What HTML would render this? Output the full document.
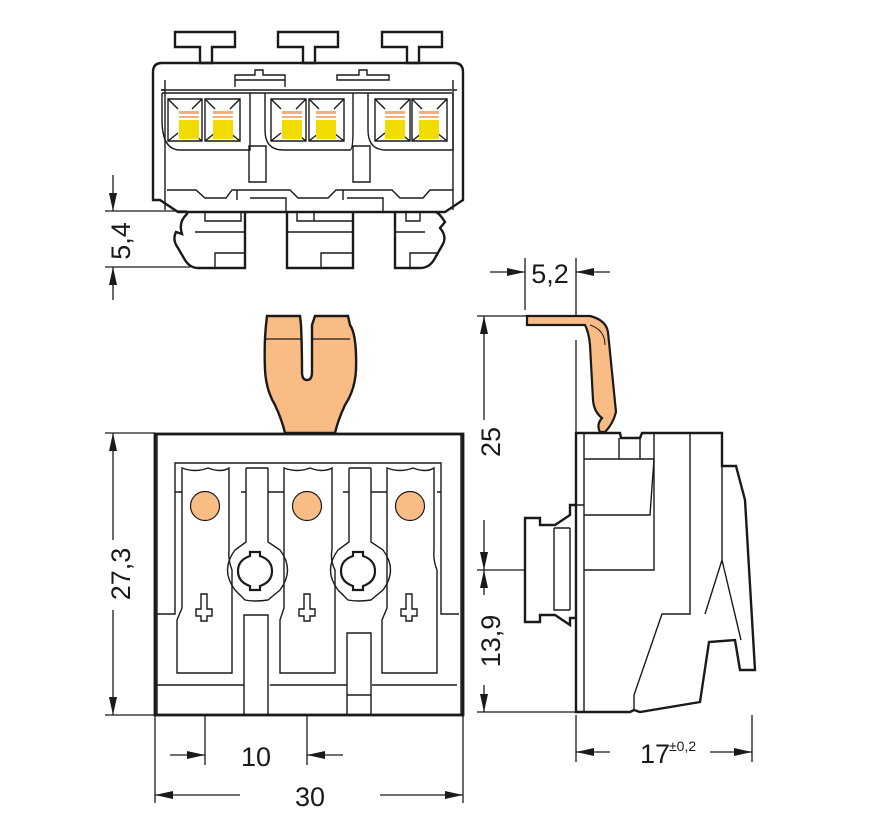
<!DOCTYPE html>
<html><head><meta charset="utf-8"><style>
html,body{margin:0;padding:0;background:#fff}
svg{display:block}
text{font-family:"Liberation Sans",Arial,sans-serif;fill:#1a1a1a}
</style></head><body>
<svg width="869" height="825" viewBox="0 0 869 825" xmlns="http://www.w3.org/2000/svg">
<defs>
<marker id="a" viewBox="0 0 18 10" refX="18" refY="5" markerWidth="18" markerHeight="10" markerUnits="userSpaceOnUse" orient="auto-start-reverse"><path d="M0,1 L18,5 L0,9z" fill="#1a1a1a"/></marker>
</defs>
<g fill="none" stroke="#1a1a1a" stroke-width="1.4">
<!-- ===== TOP VIEW ===== -->
<g stroke-width="2.4">
<path d="M153,72 Q153,63 162,63 L454,63 Q463,63 463,72 L463,200 L445,212 L178,212 L160,200 L153,200 Z"/>
<path d="M175,32 h60 v15 h-23 v16 h-12 v-16 h-25z"/>
<path d="M278,32 h60 v15 h-23 v16 h-12 v-16 h-25z"/>
<path d="M382,32 h60 v15 h-23 v16 h-12 v-16 h-25z"/>
<path d="M187,212 L187,214 Q178,222 182,234 L176,232 Q172,240 178,248 L185,260 Q190,268 198,268 L245,268 L245,212"/>
<path d="M287,212 V268 H353 V212"/>
<path d="M395,212 V268 L420,268 Q430,268 435,258 L443,244 Q447,236 440,228 L445,222 Q440,214 436,212"/>
</g>
<path d="M165,80 V210 M453,80 V210"/>
<path d="M161,90 h4 M453,90 h4"/>
<path d="M162,90 H452"/>
<path d="M162,93 H452"/>
<path d="M162,93 V120 Q162,150 180,150 L250,150 V93"/>
<path d="M265,93 V130 Q265,150 283,150 L350,150 Q353,150 353,130 V93"/>
<path d="M368,93 V130 Q368,150 386,150 L453,150 V93"/>
<path d="M235,80 h50 v-5 h-22 v-5 h-8 v5 h-20z M235,80 V87 M285,80 V87"/>
<path d="M337,80 h52 v-5 h-22 v-5 h-8 v5 h-22z"/>
<path d="M249,146 h17 v36 h-17z M353,146 h17 v36 h-17z"/>
<path d="M167,190 H196 L205,198 H226 L232,190 H290 L298,198 H328 L336,190 H392 L400,198 H423 L430,190 H453"/>
<path d="M237,190 V200 M343,190 V200 M250,198 h36 v14 M347,198 h36 v14"/>
<path d="M205,212 v9 h36 v-9 M297,212 v9 h55 M314,212 v9 M406,212 v9 h14 v-9 M195,232 h50 M287,232 h66 M395,232 h30 M215,268 v-15 h30 M321,268 v-15 h32 M410,268 v-15 h28"/>
<g>
<path d="M168,99 h34 v42 h-34z M168,99 l10,10 M202,99 l-10,10 M168,141 l10,-8 M202,141 l-10,-8"/>
<path d="M205,99 h35 v42 h-35z M205,99 l10,10 M240,99 l-10,10 M205,141 l10,-8 M240,141 l-10,-8"/>
<path d="M271,99 h35 v42 h-35z M271,99 l10,10 M306,99 l-10,10 M271,141 l10,-8 M306,141 l-10,-8"/>
<path d="M309,99 h35 v42 h-35z M309,99 l10,10 M344,99 l-10,10 M309,141 l10,-8 M344,141 l-10,-8"/>
<path d="M375,99 h35 v42 h-35z M375,99 l10,10 M410,99 l-10,10 M375,141 l10,-8 M410,141 l-10,-8"/>
<path d="M412,99 h35 v42 h-35z M412,99 l10,10 M447,99 l-10,10 M412,141 l10,-8 M447,141 l-10,-8"/>
</g>
</g>
<g fill="#f0dc00" stroke="none">
<rect x="179" y="120" width="20" height="19"/><rect x="213" y="120" width="20" height="19"/>
<rect x="282" y="120" width="20" height="19"/><rect x="316" y="120" width="20" height="19"/>
<rect x="385" y="120" width="20" height="19"/><rect x="419" y="120" width="20" height="19"/>
</g>
<g fill="#f0b080" stroke="none">
<rect x="179" y="111" width="20" height="3"/><rect x="213" y="111" width="20" height="3"/>
<rect x="282" y="111" width="20" height="3"/><rect x="316" y="111" width="20" height="3"/>
<rect x="385" y="111" width="20" height="3"/><rect x="419" y="111" width="20" height="3"/>
<rect x="179" y="116" width="20" height="2"/><rect x="213" y="116" width="20" height="2"/>
<rect x="282" y="116" width="20" height="2"/><rect x="316" y="116" width="20" height="2"/>
<rect x="385" y="116" width="20" height="2"/><rect x="419" y="116" width="20" height="2"/>
</g>

<!-- ===== FRONT VIEW ===== -->
<path d="M267,316 H300 L301,325 Q302,345 302,372 Q302,380 307,380 Q312,380 312,372 V325 L315,316 H348 L350,325 Q357,335 356,370 Q355,390 345,405 Q338,420 335,433 H285 Q282,420 275,405 Q266,390 265,370 Q264,345 266,325Z" fill="#f9bc85" stroke="#1a1a1a" stroke-width="2.4"/>
<path d="M266,339 H302 M312,339 H350" stroke="#1a1a1a" stroke-width="1.2"/>
<g fill="none" stroke="#1a1a1a" stroke-width="1.4">
<rect x="155" y="434" width="308" height="281" stroke-width="2.8"/>
<path d="M157,434 V715 M461,434 V715"/>
<path d="M157,614 H175 V463 H441 V614 H459"/>
<path d="M175,492 H182 M241,492 H246 M268,492 H284 M343,492 H349 M371,492 H387 M437,492 H441"/>
<path d="M157,685 H244 M270,685 H347 M372,685 H457"/>
<path d="M182,468 Q195,473 208,468 Q221,473 229,468 V550 Q228,560 232,570 V673 H177 V620 L182,608 Z"/>
<path d="M284,468 Q297,473 310,468 Q323,473 332,468 V550 Q330,560 335,570 V673 H280 V620 L284,608 Z"/>
<path d="M387,468 Q400,473 413,468 Q426,473 434,468 V550 Q433,560 437,570 V673 H382 V620 L387,608 Z"/>
<path d="M246,468 V542 L235,550 Q220,570 235,590 L245,600 Q255,602 268,600 L280,590 Q295,570 280,550 L268,542 V468"/>
<path d="M349,468 V542 L338,550 Q323,570 338,590 L348,600 Q358,602 371,600 L383,590 Q398,570 383,550 L371,542 V468"/>
<path d="M246,468 h22 M349,468 h22"/>
<path d="M244,615 h24 v100 h-24z"/>
<path d="M347,633 h24 v82 h-24z M347,695 h24"/>
<path d="M201,594 h6 v15 h5 v7 h-5 v5 h-6 v-5 h-5 v-7 h5z"/>
<path d="M304,594 h6 v15 h5 v7 h-5 v5 h-6 v-5 h-5 v-7 h5z"/>
<path d="M406,594 h6 v15 h5 v7 h-5 v5 h-6 v-5 h-5 v-7 h5z"/>
</g>
<g fill="none" stroke="#1a1a1a" stroke-width="2.2">
<path d="M250,552 h10 v4 q12,4 12,15 q0,11 -12,15 v4 h-10 v-4 q-12,-4 -12,-15 q0,-11 12,-15z"/>
<path d="M353,552 h10 v4 q12,4 12,15 q0,11 -12,15 v4 h-10 v-4 q-12,-4 -12,-15 q0,-11 12,-15z"/>
</g>
<g fill="#f9bc85" stroke="#1a1a1a" stroke-width="1.2">
<circle cx="205" cy="506" r="14.5"/><circle cx="307" cy="506" r="14.5"/><circle cx="410" cy="506" r="14.5"/>
</g>

<!-- ===== SIDE VIEW ===== -->
<path d="M527,316 H590 Q606,320 608,332 L616,412 Q613,424 605,432 H600 Q596,425 602,418 Q594,412 593,400 L590,345 Q589,333 585,325 H527Z" fill="#f9bc85" stroke="#1a1a1a" stroke-width="2.2"/>
<path d="M590,325 Q605,330 605,345" fill="none" stroke="#1a1a1a" stroke-width="1"/>
<g fill="none" stroke="#1a1a1a" stroke-width="2.4">
<path d="M576,433 H620 L621,438 H640 L642,433 H722 V466 H736 L745,500 L755,670 H740 L735,640 L709,642 L700,702 L640,712 L634,710 L630,712 H576 Z"/>
<path d="M576,505 H570 V515 L555,525 H540 V518 H525 V622 H540 V615 H555 L570,625 V618 H576"/>
</g>
<g fill="none" stroke="#1a1a1a" stroke-width="1.4">
<path d="M584,433 V712 M576,505 H584"/>
<path d="M584,459 H654 L650,515 H584 M619,438 V459 M640,438 V459"/>
<path d="M654,433 V570 H584 M690,433 V614 H662 L634,695 V710"/>
<path d="M722,466 V560 L705,614 M722,560 L741,640"/>
<path d="M554,528 H570 M554,528 V610 H570 M570,528 V610"/>
</g>

<!-- ===== DIMENSIONS ===== -->
<g fill="none" stroke="#1a1a1a" stroke-width="1.3">
<path d="M105,211 H187 M105,267 H190"/>
<path d="M113,175 V211" marker-end="url(#a)"/>
<path d="M113,300 V267" marker-end="url(#a)"/>
<path d="M105,433 H155 M105,715 H155"/>
<path d="M113,540 V433" marker-end="url(#a)"/>
<path d="M113,610 V715" marker-end="url(#a)"/>
<path d="M155,715 V803 M463,715 V803 M205,715 V765 M307,715 V765"/>
<path d="M170,755 H205" marker-end="url(#a)"/>
<path d="M343,755 H307" marker-end="url(#a)"/>
<path d="M240,795 H155" marker-end="url(#a)"/>
<path d="M380,795 H463" marker-end="url(#a)"/>
<path d="M576,715 V762 M752,715 V762"/>
<path d="M610,752 H576" marker-end="url(#a)"/>
<path d="M710,752 H752" marker-end="url(#a)"/>
<path d="M477,316 H527 M477,570 H525 M477,712 H576 M576,340 V433"/>
<path d="M484,420 V316" marker-end="url(#a)"/>
<path d="M484,520 V570" marker-end="url(#a)"/>
<path d="M484,595 V570" marker-end="url(#a)"/>
<path d="M484,685 V712" marker-end="url(#a)"/>
<path d="M525,258 V310 M576,258 V316"/>
<path d="M490,272 H525" marker-end="url(#a)"/>
<path d="M610,272 H576" marker-end="url(#a)"/>
</g>
<g font-size="27">
<text x="130" y="241" transform="rotate(-90 130 241)" text-anchor="middle">5,4</text>
<text x="130" y="574" transform="rotate(-90 130 574)" text-anchor="middle">27,3</text>
<text x="256" y="766" text-anchor="middle">10</text>
<text x="310" y="806" text-anchor="middle">30</text>
<text x="640" y="763">17</text>
<text x="669" y="751" font-size="14">±0,2</text>
<text x="500" y="442" transform="rotate(-90 500 442)" text-anchor="middle">25</text>
<text x="500" y="641" transform="rotate(-90 500 641)" text-anchor="middle">13,9</text>
<text x="550" y="283" text-anchor="middle">5,2</text>
</g>
</svg>
</body></html>
